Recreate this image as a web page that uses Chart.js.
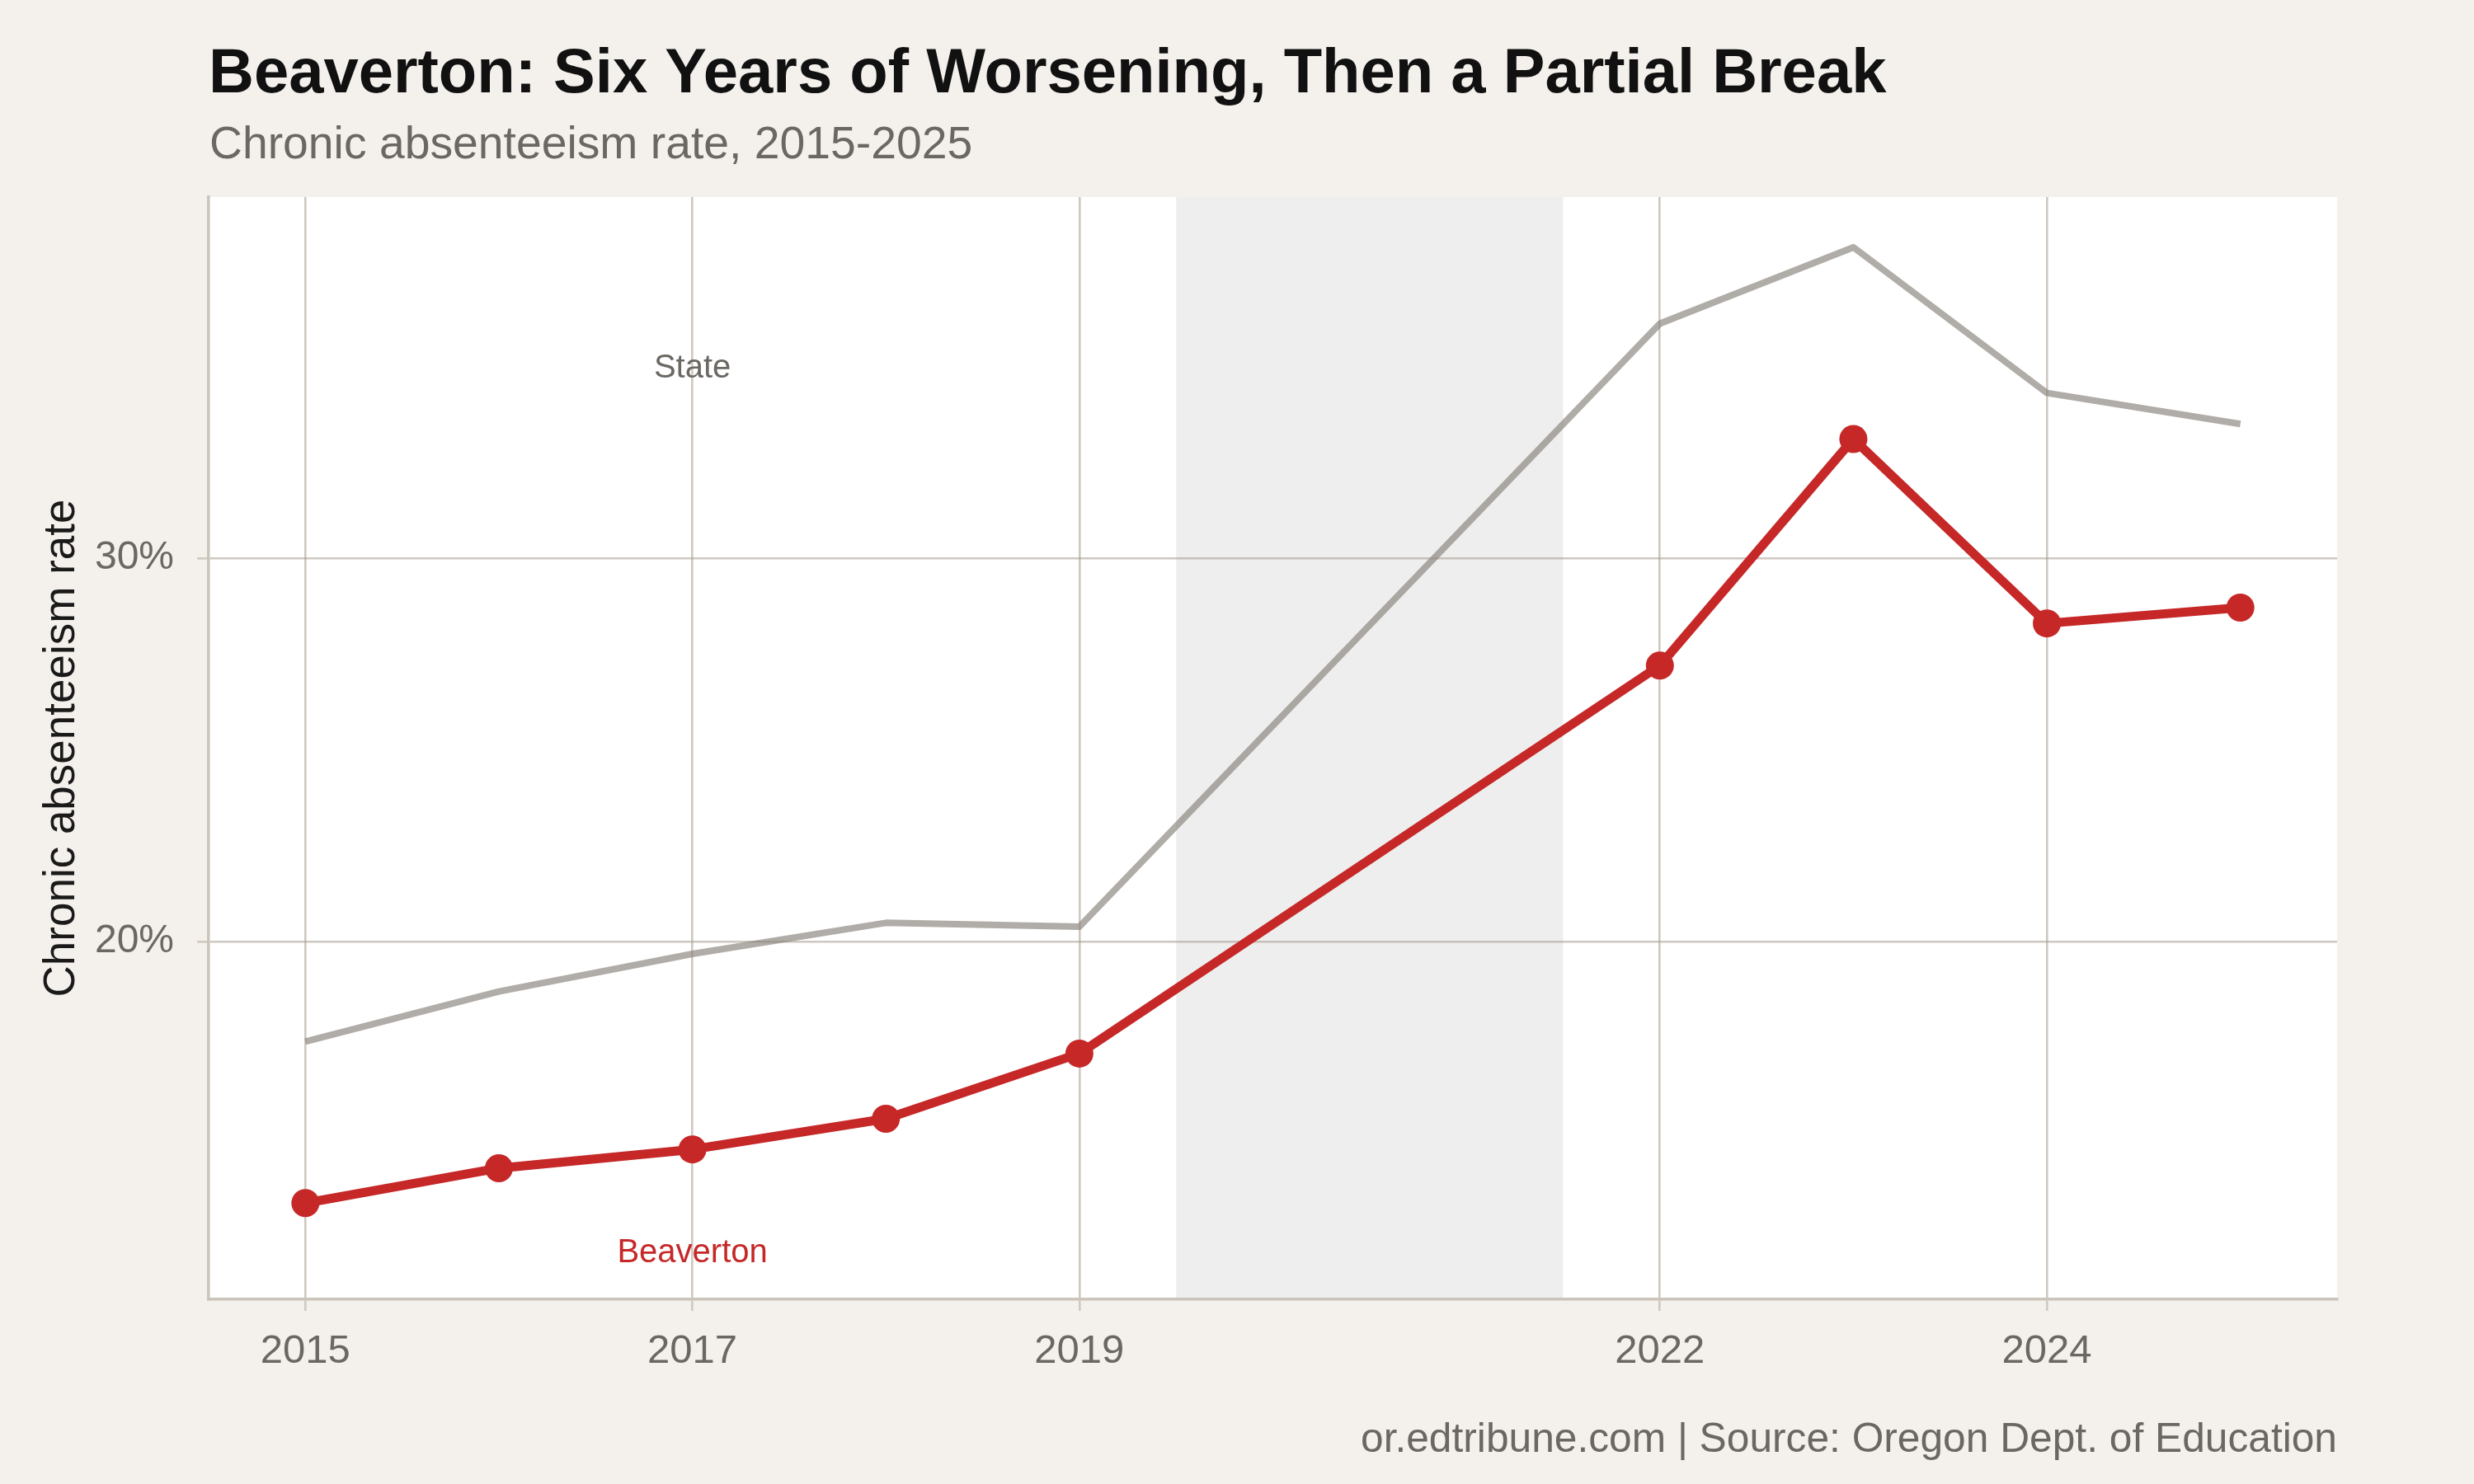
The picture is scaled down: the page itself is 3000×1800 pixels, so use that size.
<!DOCTYPE html>
<html>
<head>
<meta charset="utf-8">
<script src="https://cdn.jsdelivr.net/npm/chart.js@4.4.1/dist/chart.umd.min.js"></script>
<style>
  html, body { margin: 0; padding: 0; background: #f4f1ec; }
  canvas { display: block; }
</style>
</head>
<body>
<canvas id="chart" width="3000" height="1800"></canvas>
<script>
// ---- Data ----
const years = [2015, 2016, 2017, 2018, 2019, 2022, 2023, 2024, 2025];
const beavertonRate = [13.18, 14.09, 14.58, 15.38, 17.08, 27.20, 33.11, 28.30, 28.71];
const stateRate = [17.39, 18.70, 19.68, 20.49, 20.39, 36.12, 38.11, 34.31, 33.50];
const xTickYears = [2015, 2017, 2019, 2022, 2024];
const yTickValues = [20, 30];
const shadedYears = [2019.5, 2021.5];
const seriesNames = ['Beaverton', 'State'];
const labelAnchorsX = [2017, 2017];
const labelAnchorsY = [11.95, 35.02];

const titleText = 'Beaverton: Six Years of Worsening, Then a Partial Break';
const subtitleText = 'Chronic absenteeism rate, 2015-2025';
const yAxisTitle = 'Chronic absenteeism rate';
const captionText = 'or.edtribune.com | Source: Oregon Dept. of Education';

// ---- Styles ----
const FONT = '"Liberation Sans", Arial, Helvetica, sans-serif';
const RED = '#c62828';
const STATE_COLOR = 'rgba(135,129,122,0.66)';
const GRID = 'rgba(165,155,140,0.55)';
const AXIS = '#cac4bb';
const TEXT_GRAY = '#6b6762';

const toPoints = (xs, ys) => xs.map((x, i) => ({ x: x, y: ys[i] }));

const backgroundPlugin = {
  id: 'panelBg',
  beforeDraw(chart) {
    const { ctx, chartArea: a, scales: { x } } = chart;
    ctx.save();
    ctx.fillStyle = '#ffffff';
    ctx.fillRect(a.left, a.top, a.right - a.left, a.bottom - a.top);
    const x0 = x.getPixelForValue(shadedYears[0]);
    const x1 = x.getPixelForValue(shadedYears[1]);
    ctx.fillStyle = '#eeeeee';
    ctx.fillRect(x0, a.top, x1 - x0, a.bottom - a.top);
    ctx.restore();
  }
};

const textPlugin = {
  id: 'texts',
  afterDraw(chart) {
    const { ctx, chartArea: a, scales: { x, y } } = chart;
    ctx.save();
    // Title
    ctx.textAlign = 'left';
    ctx.textBaseline = 'alphabetic';
    ctx.fillStyle = '#111111';
    ctx.font = 'bold 76px ' + FONT;
    ctx.fillText(titleText, a.left, 112);
    // Subtitle
    ctx.fillStyle = TEXT_GRAY;
    ctx.font = '55.3px ' + FONT;
    ctx.fillText(subtitleText, a.left + 1, 192);
    // Caption
    ctx.textAlign = 'right';
    ctx.font = '49.7px ' + FONT;
    ctx.fillText(captionText, a.right, 1761);
    // Y axis title
    ctx.save();
    ctx.translate(90, (a.top + a.bottom) / 2);
    ctx.rotate(-Math.PI / 2);
    ctx.textAlign = 'center';
    ctx.fillStyle = '#1a1a1a';
    ctx.font = '53px ' + FONT;
    ctx.fillText(yAxisTitle, 0, 0);
    ctx.restore();
    // Direct series labels
    const labelColors = [RED, TEXT_GRAY];
    const size = 40;
    ctx.font = size + 'px ' + FONT;
    ctx.textAlign = 'center';
    seriesNames.forEach((name, i) => {
      const px = x.getPixelForValue(labelAnchorsX[i]);
      const py = y.getPixelForValue(labelAnchorsY[i]);
      ctx.fillStyle = labelColors[i];
      ctx.fillText(name, px, py + size * 0.716 / 2);
    });
    ctx.restore();
  }
};

const chart = new Chart(document.getElementById('chart'), {
  type: 'line',
  data: {
    datasets: [
      {
        label: seriesNames[0],
        data: toPoints(years, beavertonRate),
        borderColor: RED,
        backgroundColor: RED,
        borderWidth: 11,
        pointRadius: 17,
        pointHoverRadius: 17,
        pointBorderWidth: 0,
        pointBackgroundColor: RED,
        tension: 0,
        borderJoinStyle: 'round',
        fill: false
      },
      {
        label: seriesNames[1],
        data: toPoints(years, stateRate),
        borderColor: STATE_COLOR,
        borderWidth: 8,
        pointRadius: 0,
        tension: 0,
        borderJoinStyle: 'round',
        fill: false
      }
    ]
  },
  options: {
    responsive: false,
    devicePixelRatio: 1,
    animation: false,
    layout: { padding: { left: 30, top: 239, right: 166, bottom: 124 } },
    plugins: {
      legend: { display: false },
      tooltip: { enabled: false },
      title: { display: false }
    },
    scales: {
      x: {
        type: 'linear',
        min: 2014.5,
        max: 2025.5,
        afterBuildTicks(scale) { scale.ticks = xTickYears.map(v => ({ value: v })); },
        afterFit(scale) { scale.height = 100; },
        grid: {
          color: GRID,
          lineWidth: 2.6,
          drawTicks: true,
          tickLength: 14,
          tickColor: '#cfc9c0',
          tickWidth: 2.6
        },
        border: { display: true, color: AXIS, width: 3.5 },
        ticks: {
          autoSkip: false,
          maxRotation: 0,
          padding: 20,
          color: TEXT_GRAY,
          font: { family: FONT, size: 49 },
          callback: (v) => String(v)
        }
      },
      y: {
        type: 'linear',
        min: 10.67,
        max: 39.42,
        afterBuildTicks(scale) { scale.ticks = yTickValues.map(v => ({ value: v })); },
        afterFit(scale) { scale.width = 223; },
        grid: {
          color: GRID,
          lineWidth: 2.6,
          drawTicks: true,
          tickLength: 14,
          tickColor: '#cfc9c0',
          tickWidth: 2.6
        },
        border: { display: true, color: AXIS, width: 3.5 },
        ticks: {
          padding: 28,
          color: TEXT_GRAY,
          font: { family: FONT, size: 48 },
          callback: (v) => v + '%'
        }
      }
    }
  },
  plugins: [backgroundPlugin, textPlugin]
});
</script>
</body>
</html>
